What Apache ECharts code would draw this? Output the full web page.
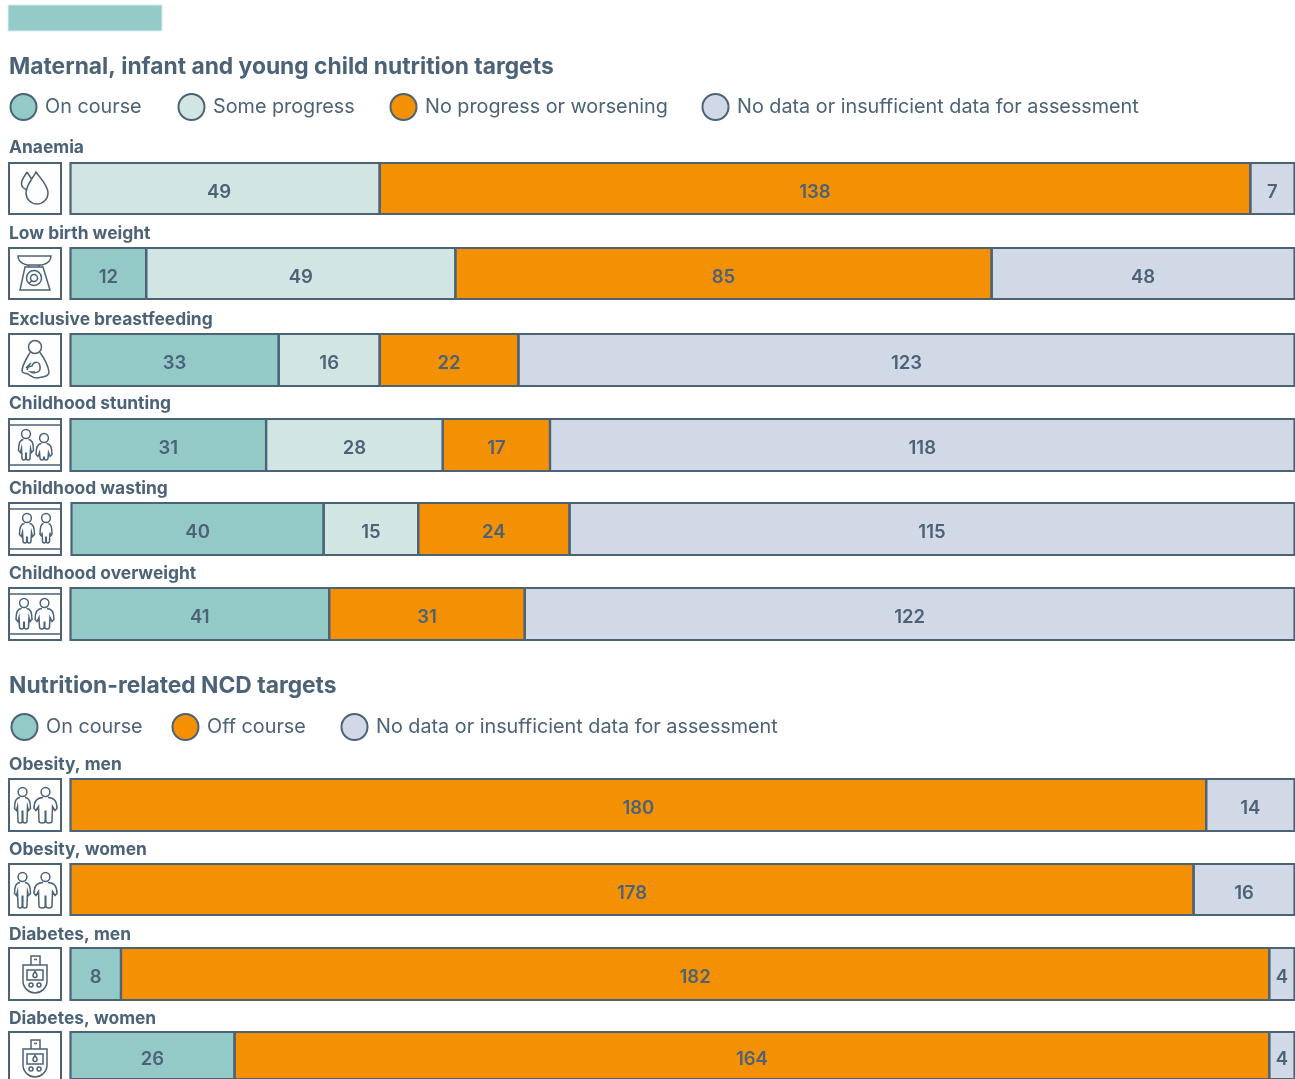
<!DOCTYPE html>
<html><head><meta charset="utf-8">
<style>html,body{margin:0;padding:0;background:#fff;overflow:hidden}#c{width:1295px;height:1079px}</style>
<script src="https://cdn.jsdelivr.net/npm/echarts@6/dist/echarts.min.js"></script>
</head><body><div id="c"></div>
<script>
const FONT = 'Inter';
const INK = '#4c6277';
const rowNames = ['Anaemia','Low birth weight','Exclusive breastfeeding','Childhood stunting','Childhood wasting','Childhood overweight','Obesity, men','Obesity, women','Diabetes, men','Diabetes, women'];
const onCourse     = [0,12,33,31,40,41,0,0,8,26];
const someProgress = [49,49,16,28,15,0,0,0,0,0];
const noProgress   = [138,85,22,17,24,31,0,0,0,0];
const offCourse    = [0,0,0,0,0,0,180,178,182,164];
const noData       = [7,48,123,118,115,122,14,16,4,4];
const AXIS_MAX = 194;
const headings = ['Maternal, infant and young child nutrition targets','Nutrition-related NCD targets'];
const statusNames = ['On course','Some progress','No progress or worsening','Off course','No data or insufficient data for assessment'];
const statusValues = [onCourse,someProgress,noProgress,offCourse,noData];
const statusColors = ['#93c9c7','#d1e6e3','#f49004','#f49004','#d2d9e6'];

// layout only
const rowTop = [163,248,334,419,503,588,779,864,948,1032];
const rowHeight = [51,51,52,52,52,52,52,51,52,52];
const rowLeft = [70.5,70.5,70.5,70.5,71.5,70.5,70.5,70.5,70.5,70.5];
const labelTop = [147,233,319,403,488,573,764,849,934,1018];
const legendItems = [
  ['On course',9.5,93],['Some progress',177.5,93],['No progress or worsening',389.5,93],['No data or insufficient data for assessment',701.5,93],
  ['On course',10.5,713],['Off course',171.5,713],['No data or insufficient data for assessment',340.5,713]
];

// icons (local coordinates in a 52x52 box)
function circ(cx,cy,r){return `M${cx-r} ${cy}A${r} ${r} 0 1 1 ${cx+r} ${cy}A${r} ${r} 0 1 1 ${cx-r} ${cy}Z`;}
function person(cx,headY,feet,w,l){
  const s=headY+5.5;
  return circ(cx,headY,4.4)+
   `M${cx-2.5} ${s}C${cx-w+1} ${s} ${cx-w} ${s+6} ${cx-w} ${s+11}L${cx-w+2} ${s+13}L${cx-l-0.5} ${s+9}`+
   `L${cx-l} ${feet-2}Q${cx-l} ${feet} ${cx-l/2} ${feet}Q${cx-0.3} ${feet} ${cx-0.3} ${feet-2}L${cx-0.3} ${s+13}`+
   `M${cx+0.3} ${s+13}L${cx+0.3} ${feet-2}Q${cx+0.3} ${feet} ${cx+l/2} ${feet}Q${cx+l} ${feet} ${cx+l} ${feet-2}L${cx+l+0.5} ${s+9}`+
   `L${cx+w-2} ${s+13}L${cx+w} ${s+11}C${cx+w} ${s+6} ${cx+w-1} ${s} ${cx+2.5} ${s}`;
}
const bands='M0 6H52M0 46H52';
const meter=
 'M22 17V8H31V17M25 11.5H28M14 17H38V33C38 40 32 45 26 45C20 45 14 40 14 33ZM18 22H34V32H18Z'+
 'M26 23.5C24.5 25.5 24 26.5 24 27.5A2 2 0 0 0 28 27.5C28 26.5 27.5 25.5 26 23.5Z'+circ(22,37,2)+circ(30,37,2);
const iconPaths=[
 'M18 9C15 14 12.5 17 12.5 20A6 6 0 0 0 18.5 26.5M18 9C20 12 21 13.5 22.5 16M27 9C24 15 17 22 17 30A11 11 0 0 0 39 30C39 22 31 15 27 9Z',
 'M9 8H42Q42 15 33 17H18Q9 15 9 8ZM20 17V19H30V17M16 19H34L41 42H11Z'+circ(25,30,7.5)+circ(25,30,3.5)+'M23 32.5L20 35.5',
 circ(26,13,6.5)+'M21 18.5C18 24 13 31 13 37C13 39 16 39.5 19 40C22 42 24 44 28 44C33 43 40 43 40 38C39 31 35 24 31 18.5M18 36C19 32 21 32 23 32C25 27 31 27 31 33C32 38 26 40 22 38L26 38M17 34L22 29',
 bands+person(17,15,41,7.5,4)+person(35,19,41,8,4),
 bands+person(18,15,40,7.5,4)+person(37,15,40,6,3.5),
 bands+person(15,15,41,8,4.5)+person(35.5,15,41,9.5,5),
 person(13.5,13,44,8,4.5)+person(36.5,13,44,11.5,6.5),
 person(13.5,13,44,8,4.5)+person(36.5,13,44,11.5,6.5),
 meter, meter
];
iconPaths.forEach((d,i)=>echarts.graphic.registerShape('rowIcon'+i,echarts.graphic.extendPath(d,{})));

function outline(params,api){
  const a=api.coord([api.value(0),0]), b=api.coord([api.value(1),0]), c=params.coordSys;
  return {type:'rect',shape:{x:a[0],y:c.y,width:b[0]-a[0],height:c.height},style:{fill:'none',stroke:INK,lineWidth:2.2},silent:true};
}

const grids=[],xAxes=[],yAxes=[],series=[],graphic=[];
rowNames.forEach((name,i)=>{
  grids.push({left:rowLeft[i],top:rowTop[i],width:1294.5-rowLeft[i],height:rowHeight[i]});
  xAxes.push({type:'value',gridIndex:i,min:0,max:AXIS_MAX,show:false});
  yAxes.push({type:'category',gridIndex:i,data:[name],show:false});
  const edges=[]; let sum=0;
  statusNames.forEach((s,k)=>{
    const v=statusValues[k][i];
    if(!v) return;
    edges.push([sum,sum+v]); sum+=v;
    const shift=(i===0&&k===1)?-6:0;
    series.push({name:s,type:'bar',stack:'row'+i,xAxisIndex:i,yAxisIndex:i,data:[v],barWidth:'100%',
      itemStyle:{color:statusColors[k]},emphasis:{disabled:true},animation:false,
      label:{show:true,position:'inside',offset:[shift,3.5],color:INK,fontFamily:FONT,fontSize:18.5,fontWeight:600,formatter:'{c}'}});
  });
  series.push({type:'custom',xAxisIndex:i,yAxisIndex:i,data:edges,renderItem:outline,z:5,silent:true,clip:false,animation:false,encode:{x:[0,1]}});
  graphic.push({type:'text',left:9,top:labelTop[i]-8,style:{text:name,fontFamily:FONT,fontSize:17.4,fontWeight:700,fill:INK}});
  graphic.push({type:'group',x:9,y:rowTop[i],children:[
    {type:'rect',shape:{x:0,y:0,width:52,height:rowHeight[i]},style:{fill:'#fff',stroke:INK,lineWidth:2}},
    {type:'rowIcon'+i,style:{fill:'none',stroke:INK,lineWidth:1.5}}
  ]});
});
graphic.push({type:'rect',shape:{x:8,y:5,width:154,height:26},style:{fill:'#94cac8',stroke:'#d7ecea',lineWidth:1}});
graphic.push({type:'text',left:9,top:56,style:{text:headings[0],fontFamily:FONT,fontSize:22.8,fontWeight:700,fill:INK}});
graphic.push({type:'text',left:9,top:675,style:{text:headings[1],fontFamily:FONT,fontSize:22.8,fontWeight:700,fill:INK}});

const legends=legendItems.map(([n,l,t])=>({
  left:l,top:t,padding:0,itemWidth:26,itemHeight:26,icon:'circle',data:[n],selectedMode:false,
  itemStyle:{borderColor:INK,borderWidth:2},
  textStyle:{color:INK,fontFamily:FONT,fontSize:19.8,padding:[0,0,0,3.5]}
}));

const chart=echarts.init(document.getElementById('c'),null,{renderer:'canvas'});
chart.setOption({animation:false,backgroundColor:'#fff',grid:grids,xAxis:xAxes,yAxis:yAxes,series,legend:legends,graphic,tooltip:{show:false}});
</script></body></html>
